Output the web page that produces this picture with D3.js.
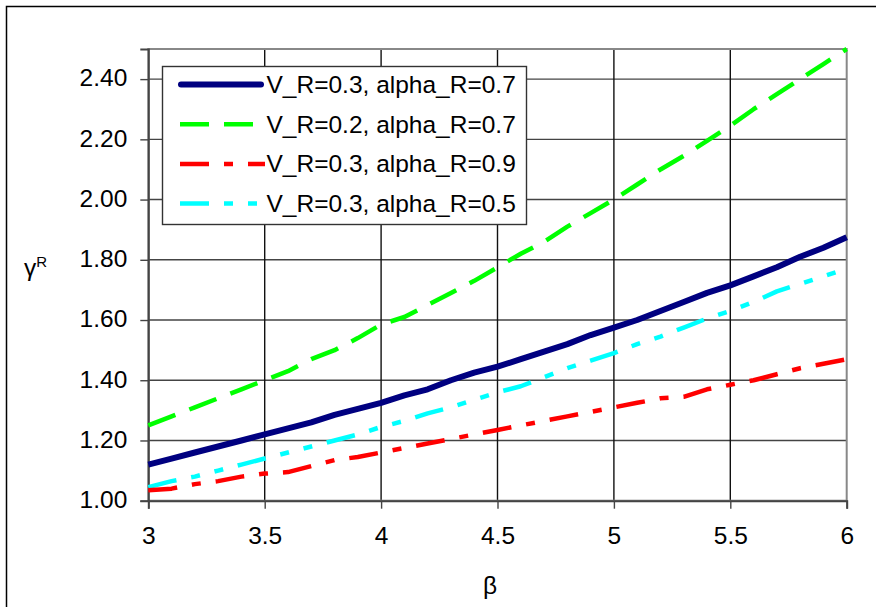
<!DOCTYPE html>
<html>
<head>
<meta charset="utf-8">
<script src="https://cdn.jsdelivr.net/npm/d3@7"></script>
<style>
  html, body { margin: 0; padding: 0; background: #fff; }
  svg text { font-family: "Liberation Sans", Arial, sans-serif; }
</style>
</head>
<body>
<div id="chart"></div>
<script>
// data
var beta = [3.0, 3.1, 3.2, 3.3, 3.4, 3.5, 3.6, 3.7, 3.8, 3.9, 4.0, 4.1, 4.2, 4.3, 4.4, 4.5,
            4.6, 4.7, 4.8, 4.9, 5.0, 5.1, 5.2, 5.3, 5.4, 5.5, 5.6, 5.7, 5.8, 5.9, 6.0];
var v03_a07 = [1.12, 1.14, 1.16, 1.18, 1.20, 1.22, 1.24, 1.26, 1.285, 1.305, 1.325, 1.35, 1.37, 1.40, 1.425, 1.445,
               1.47, 1.495, 1.52, 1.55, 1.575, 1.60, 1.63, 1.66, 1.69, 1.715, 1.745, 1.775, 1.81, 1.84, 1.875];
var v02_a07 = [1.25, 1.28, 1.31, 1.34, 1.37, 1.40, 1.43, 1.47, 1.50, 1.54, 1.585, 1.61, 1.65, 1.69, 1.73, 1.775,
               1.82, 1.86, 1.91, 1.955, 2.00, 2.05, 2.10, 2.145, 2.195, 2.245, 2.30, 2.35, 2.40, 2.45, 2.50];
var v03_a09 = [1.035, 1.04, 1.055, 1.065, 1.08, 1.09, 1.095, 1.115, 1.135, 1.145, 1.16, 1.175, 1.19, 1.205, 1.22, 1.235,
               1.25, 1.265, 1.28, 1.295, 1.31, 1.325, 1.34, 1.345, 1.37, 1.385, 1.40, 1.42, 1.44, 1.455, 1.47];
var v03_a05 = [1.045, 1.065, 1.08, 1.10, 1.12, 1.14, 1.16, 1.18, 1.20, 1.22, 1.245, 1.265, 1.29, 1.31, 1.335, 1.36,
               1.38, 1.41, 1.44, 1.465, 1.49, 1.52, 1.545, 1.575, 1.605, 1.63, 1.66, 1.695, 1.72, 1.745, 1.77];
var series_names = ["V_R=0.3, alpha_R=0.7", "V_R=0.2, alpha_R=0.7", "V_R=0.3, alpha_R=0.9", "V_R=0.3, alpha_R=0.5"];
var x_ticks = [3, 3.5, 4, 4.5, 5, 5.5, 6];
var y_ticks = [1.0, 1.2, 1.4, 1.6, 1.8, 2.0, 2.2, 2.4];

var series = [v03_a07, v02_a07, v03_a09, v03_a05];
var style = [
  {c: "#000080", w: 6,   dash: null},
  {c: "#00ff00", w: 4.5, dash: "29 15"},
  {c: "#ff0000", w: 4.5, dash: "29 15 9 15"},
  {c: "#00ffff", w: 4.5, dash: "29 15 9 15 9 15"}
];

//layout
var W = 876, H = 607;
var area = {l: 148.3, r: 846.7, t: 49, b: 500.7};
var font = 24.5;

var svg = d3.select("#chart").append("svg").attr("width", W).attr("height", H);

// outer chart border (runs off the right and bottom)
svg.append("rect").attr("x", 6.5).attr("y", 6.5).attr("width", W + 20).attr("height", H + 20)
   .attr("fill", "none").attr("stroke", "#000").attr("stroke-width", 1.5);

var x = d3.scaleLinear().domain([3, 6]).range([area.l, area.r]);
var y = d3.scaleLinear().domain([1, 2.5]).range([area.b, area.t]);

// gridlines
var grid = svg.append("g").attr("id", "grid");
grid.selectAll("line.h").data(y_ticks.slice(1)).enter().append("line").attr("class", "h")
    .attr("x1", area.l).attr("x2", area.r).attr("y1", function(d) { return y(d); }).attr("y2", function(d) { return y(d); })
    .attr("stroke", "#444").attr("stroke-width", 1.4);
grid.selectAll("line.v").data(x_ticks.slice(1, -1)).enter().append("line").attr("class", "v")
    .attr("y1", area.t).attr("y2", area.b).attr("x1", function(d) { return x(d); }).attr("x2", function(d) { return x(d); })
    .attr("stroke", "#111").attr("stroke-width", 1.4);

// plot border
svg.append("rect").attr("x", area.l).attr("y", area.t).attr("width", area.r - area.l).attr("height", area.b - area.t)
   .attr("fill", "none").attr("stroke", "#888").attr("stroke-width", 2);

// axes
var xAxis = d3.axisBottom(x).tickValues(x_ticks).tickSize(8).tickPadding(18).tickFormat(function(d) { return String(d); });
var yAxis = d3.axisLeft(y).tickValues(y_ticks).tickSize(8).tickPadding(13).tickFormat(d3.format(".2f"));
var gx = svg.append("g").attr("transform", "translate(0," + area.b + ")").call(xAxis);
var gy = svg.append("g").attr("transform", "translate(" + area.l + ",0)").call(yAxis);
[gx, gy].forEach(function(g) {
  g.select(".domain").attr("stroke", "#444").attr("stroke-width", 2);
  g.selectAll(".tick line").attr("stroke", "#444").attr("stroke-width", 1.4);
  g.selectAll(".tick text").attr("font-size", font).attr("fill", "#000")
   .style("font-family", "'Liberation Sans', Arial, sans-serif");
});
gy.selectAll(".tick text").attr("dy", "0.28em");

// axis titles
svg.append("text").attr("x", 490).attr("y", 594).attr("text-anchor", "middle")
   .attr("font-size", font).text("β");
var yt = svg.append("text").attr("x", 24).attr("y", 276).attr("font-size", font);
yt.append("tspan").text("γ");
yt.append("tspan").attr("font-size", 15).attr("dy", -9).text("R");

// lines
var line = d3.line().x(function(d, i) { return x(beta[i]); }).y(function(d) { return y(d); });
var lines = svg.append("g").attr("id", "lines");
for (var k = series.length - 1; k >= 0; k--) {
  lines.append("path").datum(series[k]).attr("d", line)
       .attr("fill", "none").attr("stroke", style[k].c).attr("stroke-width", style[k].w)
       .attr("stroke-dasharray", style[k].dash).attr("stroke-linejoin", "round");
}

// legend
var lg = svg.append("g").attr("id", "legend");
lg.append("rect").attr("x", 162.5).attr("y", 66.5).attr("width", 364).attr("height", 158)
  .attr("fill", "#fff").attr("stroke", "#333").attr("stroke-width", 1.4);
for (var j = 0; j < series.length; j++) {
  var ly = 84.5 + j * 39.7;
  lg.append("line").attr("x1", j == 0 ? 181 : 180).attr("x2", j == 0 ? 261 : 265).attr("y1", ly).attr("y2", ly)
    .attr("stroke", style[j].c).attr("stroke-width", style[j].w)
    .attr("stroke-dasharray", style[j].dash).attr("stroke-linecap", j == 0 ? "round" : "butt");
  lg.append("text").attr("x", 266.5).attr("y", ly + 8.5).attr("font-size", font).attr("fill", "#000")
    .text(series_names[j]);
}
</script>
</body>
</html>
